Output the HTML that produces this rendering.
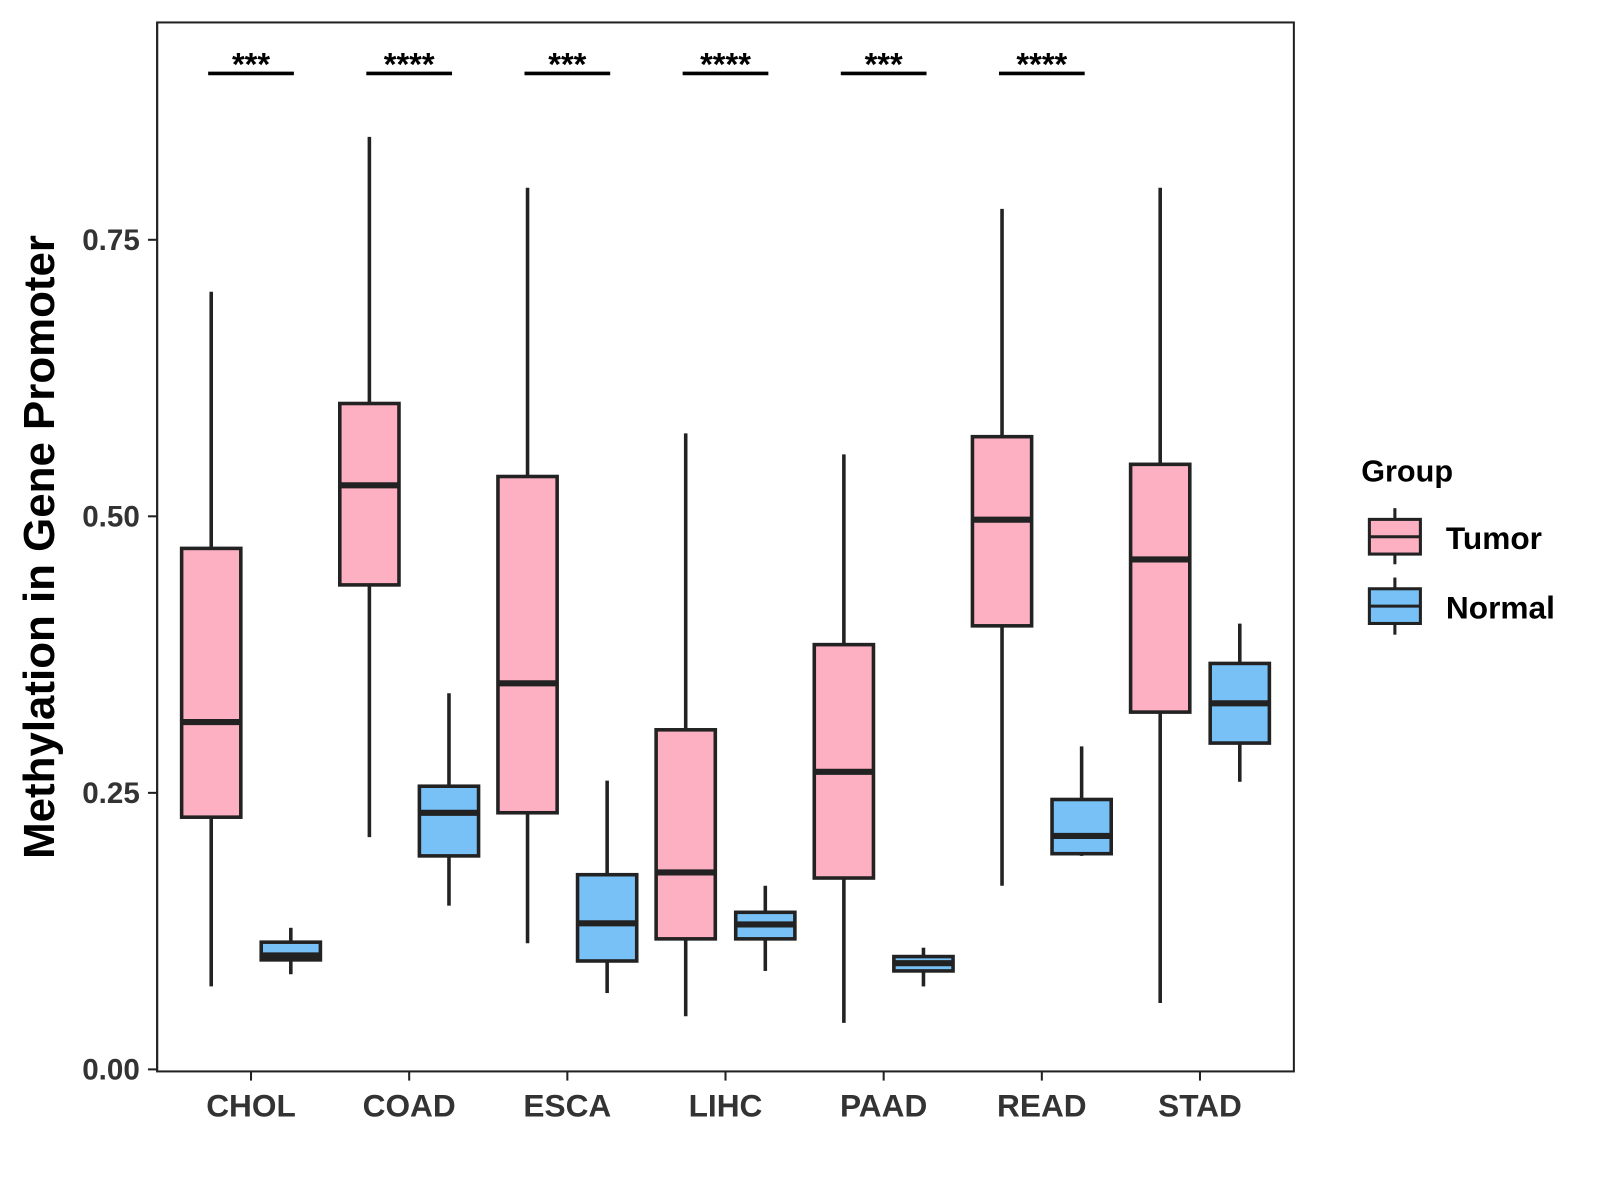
<!DOCTYPE html>
<html><head><meta charset="utf-8">
<style>
html,body{margin:0;padding:0;background:#fff;}
svg{display:block;font-family:"Liberation Sans",Arial,sans-serif;}
</style></head>
<body>
<svg id="chart" width="1600" height="1200" viewBox="0 0 1600 1200" xmlns="http://www.w3.org/2000/svg">
<rect x="0" y="0" width="1600" height="1200" fill="#fff"/>
<g transform="scale(1.0204)">
<g id="marks"></g>
<rect x="154" y="22" width="1114" height="1028" fill="none" stroke="#222" stroke-width="2"/>
<text transform="translate(53,536) rotate(-90)" text-anchor="middle" font-size="43" font-weight="bold" fill="#000">Methylation in Gene Promoter</text>
<g>
<text x="1334" y="472" font-size="30" font-weight="bold">Group</text>
<g>
<line x1="1367" y1="498" x2="1367" y2="553" stroke="#222" stroke-width="3"/>
<rect x="1342" y="509" width="50" height="34" fill="#fcb0c2" stroke="#222" stroke-width="3"/>
<line x1="1342" y1="526" x2="1392" y2="526" stroke="#222" stroke-width="3"/>
<text x="1417" y="538" font-size="31" font-weight="bold">Tumor</text>
</g>
<g>
<line x1="1367" y1="566" x2="1367" y2="622" stroke="#222" stroke-width="3"/>
<rect x="1342" y="577" width="50" height="34" fill="#78c1f7" stroke="#222" stroke-width="3"/>
<line x1="1342" y1="594" x2="1392" y2="594" stroke="#222" stroke-width="3"/>
<text x="1417" y="606" font-size="31" font-weight="bold">Normal</text>
</g>
</g>
</g>
</svg>
<script>
const categories = ["CHOL","COAD","ESCA","LIHC","PAAD","READ","STAD"];
const tumorMin = [0.075,0.210,0.114,0.048,0.042,0.166,0.060];
const tumorQ1 = [0.228,0.438,0.232,0.118,0.173,0.401,0.323];
const tumorMed = [0.314,0.528,0.349,0.178,0.269,0.497,0.461];
const tumorQ3 = [0.471,0.602,0.536,0.307,0.384,0.572,0.547];
const tumorMax = [0.703,0.843,0.797,0.575,0.556,0.778,0.797];
const normalMin = [0.086,0.148,0.069,0.089,0.075,0.193,0.260];
const normalQ1 = [0.099,0.193,0.098,0.118,0.089,0.195,0.295];
const normalMed = [0.103,0.232,0.132,0.131,0.096,0.211,0.331];
const normalQ3 = [0.115,0.256,0.176,0.142,0.102,0.244,0.367];
const normalMax = [0.128,0.340,0.261,0.166,0.110,0.292,0.403];
const significance = ["***","****","***","****","***","****",""];
const yTicks = [0, 0.25, 0.5, 0.75];
const yTickLabels = ["0.00","0.25","0.50","0.75"];

const NS = "http://www.w3.org/2000/svg";
const g = document.getElementById("marks");
function yScale(v){ return 1048 - v*1084; }
function xScale(i){ return 246 + i*155; }
function mk(tag, attrs, parent){
  const e = document.createElementNS(NS, tag);
  for (const k in attrs) e.setAttribute(k, attrs[k]);
  (parent||g).appendChild(e);
  return e;
}
yTicks.forEach((t,i)=>{
  const y = yScale(t);
  const tk = mk("line",{x1:145,x2:154,y1:y,y2:y,stroke:"#222","stroke-width":2});
  
  
  const tx = mk("text",{x:137,y:y+10,"text-anchor":"end","font-size":29,"font-weight":"bold",fill:"#333"});
  
  
  tx.textContent = yTickLabels[i];
});
function box(cx, mn, q1, md, q3, mx, fill, name){
  const grp = mk("g",{});
  
  
  const w = 58;
  mk("line",{x1:cx,x2:cx,y1:yScale(mx),y2:yScale(q3),stroke:"#222","stroke-width":3.5},grp);
  mk("line",{x1:cx,x2:cx,y1:yScale(q1),y2:yScale(mn),stroke:"#222","stroke-width":3.5},grp);
  mk("rect",{x:cx-w/2,y:yScale(q3),width:w,height:yScale(q1)-yScale(q3),fill:fill,stroke:"#222","stroke-width":3.5},grp);
  mk("line",{x1:cx-w/2,x2:cx+w/2,y1:yScale(md),y2:yScale(md),stroke:"#222","stroke-width":6},grp);
}
categories.forEach((c,i)=>{
  const x = xScale(i);
  box(x-39, tumorMin[i], tumorQ1[i], tumorMed[i], tumorQ3[i], tumorMax[i], "#fcb0c2", "box-tumor-"+c.toLowerCase());
  box(x+39, normalMin[i], normalQ1[i], normalMed[i], normalQ3[i], normalMax[i], "#78c1f7", "box-normal-"+c.toLowerCase());
  const tk = mk("line",{x1:x,x2:x,y1:1050,y2:1059,stroke:"#222","stroke-width":2});
  
  
  const tx = mk("text",{x:x,y:1094,"text-anchor":"middle","font-size":31,"font-weight":"bold",fill:"#333"});
  
  
  tx.textContent = c;
  if (significance[i]) {
    const bl = mk("line",{x1:x-42,x2:x+42,y1:72,y2:72,stroke:"#000","stroke-width":3.5});
    
    
    const st = mk("text",{x:x,y:74,"text-anchor":"middle","font-size":32,"font-weight":"bold",fill:"#000"});
    
    
    st.textContent = significance[i];
  }
});
const ax = mk("line",{x1:154,x2:154,y1:22,y2:1050,stroke:"#222","stroke-width":2});


</script>
</body></html>
